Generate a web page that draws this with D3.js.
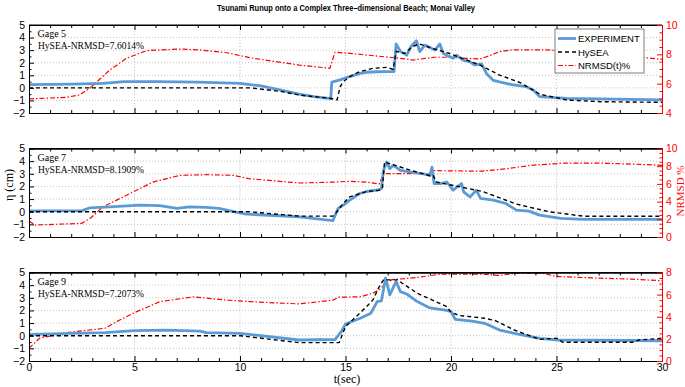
<!DOCTYPE html>
<html><head><meta charset="utf-8">
<script src="https://cdn.jsdelivr.net/npm/d3@7"></script>
<style>
body{margin:0;background:#fff;}
svg{display:block;}
</style></head>
<body>
<svg id="c" width="685" height="387"></svg>
<script>
// ---------- DATA ----------
const title = "Tsunami Runup onto a Complex Three–dimensional Beach; Monai Valley";
const gageNames = ["Gage 5", "Gage 7", "Gage 9"];
const nrmsdLabels = ["HySEA-NRMSD=7.6014%", "HySEA-NRMSD=8.1909%", "HySEA-NRMSD=7.2073%"];
const legendLabels = ["EXPERIMENT", "HySEA", "NRMSD(t)%"];
const xTicks = [0, 5, 10, 15, 20, 25, 30];
const leftTicks = [-2, -1, 0, 1, 2, 3, 4, 5];
const rightDomains = [[4, 10], [0, 10], [0, 8]];
const rightTicks = [[4, 6, 8, 10], [0, 2, 4, 6, 8, 10], [0, 2, 4, 6, 8]];

// Gage 5
const g5ExpT = [0,2,3.5,4.5,6,8,10,11,12,12.8,13.5,14.3,14.35,14.7,15.2,15.7,16,16.5,17.0,17.3,17.4,17.6,17.9,18.1,18.36,18.52,18.76,19.0,19.24,19.47,19.63,19.86,20.1,20.26,20.57,20.89,21.13,21.45,21.7,22.0,22.5,22.9,23.55,23.9,24.2,25.5,27,30];
const g5ExpV = [0.25,0.3,0.35,0.5,0.5,0.45,0.35,0.15,-0.2,-0.5,-0.7,-0.85,0.45,0.62,0.9,1.15,1.24,1.28,1.29,1.29,3.5,2.9,2.6,3.27,3.75,2.88,3.4,3.22,3.0,3.49,2.75,2.53,2.35,2.6,2.2,2.08,1.82,1.9,1.1,0.6,0.4,0.25,0.1,-0.17,-0.7,-0.83,-0.88,-0.95];
const g5SimT = [0,10.5,12,12.8,14.26,14.6,14.75,14.9,15.2,15.67,16.3,16.94,17.26,17.4,17.8,18.2,18.5,19.0,19.9,21.36,22.3,23.3,24.2,25.5,27.1,30];
const g5SimV = [0,0,-0.3,-0.57,-0.83,-0.95,0.1,0.49,0.89,1.29,1.55,1.63,1.47,2.9,2.75,3.3,3.5,3.2,2.75,1.82,1.02,0.4,-0.5,-0.97,-1.1,-1.15];
const g5ErrT = [0,1.78,2.4,2.88,3.4,3.83,4.62,5.57,7.15,8.1,9.37,10.46,12.8,14.26,14.5,15.2,16,17.6,18.2,19.2,19.9,21.36,21.7,22.3,22.9,24.6,27.1,28.7,30];
const g5ErrV = [4.96,5.07,5.23,5.68,6.37,6.93,7.73,8.25,8.36,8.3,8.11,7.77,7.27,7.05,8.14,8.07,7.95,7.73,7.61,7.8,7.8,7.68,7.84,8.18,8.3,8.3,8.07,7.84,7.66];

// Gage 7
const g7ExpT = [0,2.48,2.9,3.83,5.25,6.2,7,7.6,8.4,9.0,9.7,10.3,12.8,14.4,14.65,14.9,15.2,15.67,16,16.5,16.7,16.8,16.95,17.1,17.27,17.6,18.1,18.7,19.0,19.1,19.2,19.5,19.8,20.1,20.5,20.6,20.9,21.2,21.4,22.0,22.6,23.1,23.7,24.2,25.2,26.3,30];
const g7ExpV = [0.07,0.07,0.31,0.39,0.52,0.48,0.26,0.39,0.34,0.26,0,-0.19,-0.4,-0.71,0.26,0.52,0.91,1.44,1.6,1.7,1.83,3.27,3.93,3.41,3.67,3.27,3.14,3.0,2.88,3.53,2.23,2.23,2.35,1.7,2.23,1.57,1.17,1.7,1.05,0.91,0.65,0.13,0.05,-0.27,-0.53,-0.6,-0.6];
const g7SimT = [0,10.4,12.8,14.4,14.5,14.9,15.2,16.0,16.6,16.75,16.85,18.1,19.0,19.15,19.3,21.5,23.1,24.7,26.3,30];
const g7SimV = [0,0,-0.35,-0.35,-0.2,0.68,1.17,1.6,1.7,1.85,3.93,3.27,2.85,2.9,2.35,1.6,0.6,-0.02,-0.36,-0.36];
const g7ErrT = [0,0.3,2.5,2.9,3.5,4.62,5.87,7.15,8.4,9.67,10.4,12.8,14.4,15.2,16,16.6,16.8,17.6,19,19.2,20.75,21.5,22.6,23.8,25.4,27,28.6,30];
const g7ErrV = [1.8,1.35,1.54,2.1,3.4,4.72,6.2,6.97,7.04,6.97,6.6,6.1,6.2,6.3,6.2,6.0,7.15,7.15,7.15,7.5,7.45,7.45,7.7,8.1,8.35,8.35,8.24,8.1];

// Gage 9
const g9ExpT = [0,3.6,5,6.5,8.1,8.4,10,12.8,14.5,14.8,15.0,15.7,16.2,16.5,16.7,16.9,17.1,17.4,17.6,17.9,18.4,19.0,19.8,20.0,20.2,21.0,21.6,22.3,23.0,24.2,25.1,30];
const g9ExpV = [0.11,0.24,0.4,0.45,0.37,0.24,0.19,-0.34,-0.3,0.32,0.93,1.38,1.78,2.7,2.75,4.55,3.23,4.29,3.49,3.3,2.7,2.2,2.0,1.9,1.3,1.15,0.98,0.45,0.19,-0.21,-0.34,-0.4];
const g9SimT = [0,10,12.8,14.7,15.0,16.0,16.3,16.6,16.8,17.45,18.4,19.8,20.0,20.4,21.6,22.1,23.0,24.2,25.0,25.3,28.6,28.9,30];
const g9SimV = [0,0,-0.55,-0.55,0.71,2.3,2.83,3.89,4.42,4.42,3.36,2.3,1.85,1.6,1.38,1.2,0.45,-0.29,-0.2,-0.52,-0.52,-0.34,-0.2];
const g9ErrT = [0,0.5,1.8,3.6,4.3,5,6.2,7.8,9.4,10.5,12.8,14.4,14.7,15.7,16.3,16.6,16.9,17.2,18.4,19.5,21.5,22.3,23.1,24.3,25,27,28.6,30];
const g9ErrV = [1.15,2.06,2.57,2.96,3.7,4.37,5.36,5.8,5.5,5.36,5.16,5.5,5.77,5.8,6.13,6.43,7.0,7.35,7.55,7.85,7.85,7.73,7.95,7.95,7.64,7.49,7.4,7.25];

// ---------- LAYOUT ----------
const svg = d3.select("#c");
const L = 29, R = 662;
const panels = [
  {top: 25, bottom: 113, exp: [g5ExpT, g5ExpV], sim: [g5SimT, g5SimV], err: [g5ErrT, g5ErrV]},
  {top: 148.5, bottom: 237, exp: [g7ExpT, g7ExpV], sim: [g7SimT, g7SimV], err: [g7ErrT, g7ErrV]},
  {top: 272.5, bottom: 361, exp: [g9ExpT, g9ExpV], sim: [g9SimT, g9SimV], err: [g9ErrT, g9ErrV]}
];
const x = d3.scaleLinear().domain([0, 30]).range([L, R]);
const blue = "#5b9bd5", red = "#ff0000";
const tickFont = "'Liberation Sans', Arial, sans-serif";
const serif = "'Liberation Serif', 'Times New Roman', serif";
const fmt = d3.format("d");

svg.append("text").attr("x", 346).attr("y", 11).attr("text-anchor", "middle")
  .attr("font-family", tickFont).attr("font-weight", "bold").attr("font-size", 9.5)
  .attr("textLength", 258).attr("lengthAdjust", "spacingAndGlyphs").text(title);

panels.forEach((p, i) => {
  const y = d3.scaleLinear().domain([-2, 5]).range([p.bottom, p.top]);
  const y2 = d3.scaleLinear().domain(rightDomains[i]).range([p.bottom, p.top]);
  const g = svg.append("g");
  const clipId = "clip" + i;
  svg.append("clipPath").attr("id", clipId).append("rect")
    .attr("x", L).attr("y", p.top).attr("width", R - L).attr("height", p.bottom - p.top);

  // grid
  const grid = g.append("g").attr("stroke", "#b4b4b4").attr("stroke-width", 0.8).attr("stroke-dasharray", "1,2");
  grid.selectAll(".gh").data(d3.range(-1, 5)).join("line")
    .attr("x1", L).attr("x2", R).attr("y1", d => y(d)).attr("y2", d => y(d));
  grid.selectAll(".gv").data(xTicks.slice(1, -1)).join("line")
    .attr("x1", d => x(d)).attr("x2", d => x(d)).attr("y1", p.top).attr("y2", p.bottom);

  // lines
  const lines = g.append("g").attr("clip-path", `url(#${clipId})`);
  const mk = (T, V, sc) => d3.line().x((d, k) => x(T[k])).y((d, k) => sc(V[k]))(V);
  lines.append("path").attr("d", mk(p.err[0], p.err[1], y2)).attr("fill", "none")
    .attr("stroke", red).attr("stroke-width", 1.2).attr("stroke-dasharray", "5,2,1.5,2");
  lines.append("path").attr("d", mk(p.exp[0], p.exp[1], y)).attr("fill", "none")
    .attr("stroke", blue).attr("stroke-width", 2.8).attr("stroke-linejoin", "round");
  lines.append("path").attr("d", mk(p.sim[0], p.sim[1], y)).attr("fill", "none")
    .attr("stroke", "#000").attr("stroke-width", 1.4).attr("stroke-dasharray", "4,3");

  // frame top
  g.append("line").attr("x1", L).attr("x2", R).attr("y1", p.top).attr("y2", p.top).attr("stroke", "#000").attr("stroke-width", 1);

  // left axis
  const la = g.append("g").attr("transform", `translate(${L},0)`)
    .call(d3.axisLeft(y).tickValues(leftTicks).tickSizeInner(-5).tickSizeOuter(0).tickPadding(4).tickFormat(fmt));
  g.append("g").attr("transform", `translate(${L},0)`)
    .call(d3.axisLeft(y).tickValues(d3.range(-1.5, 5, 1)).tickSizeInner(-2.5).tickSizeOuter(0).tickFormat(""));
  la.selectAll("text").attr("font-family", tickFont).attr("font-size", 10.5).attr("fill", "#000");

  // x axes (bottom + top)
  const bx = g.append("g").attr("transform", `translate(0,${p.bottom})`)
    .call(d3.axisBottom(x).tickValues(xTicks).tickSizeInner(-5).tickSizeOuter(0).tickPadding(3)
      .tickFormat(i === 2 ? fmt : ""));
  g.append("g").attr("transform", `translate(0,${p.bottom})`)
    .call(d3.axisBottom(x).tickValues(d3.range(0, 31).filter(v => v % 5)).tickSizeInner(-3).tickSizeOuter(0).tickFormat(""));
  bx.selectAll("text").attr("font-family", tickFont).attr("font-size", 10.5).attr("fill", "#000");
  g.append("g").attr("transform", `translate(0,${p.top})`)
    .call(d3.axisTop(x).tickValues(xTicks).tickSizeInner(-5).tickSizeOuter(0).tickFormat(""));
  g.append("g").attr("transform", `translate(0,${p.top})`)
    .call(d3.axisTop(x).tickValues(d3.range(0, 31).filter(v => v % 5)).tickSizeInner(-3).tickSizeOuter(0).tickFormat(""));
  g.selectAll(".domain").attr("stroke", "#000");

  // right axis (red)
  const dom = rightDomains[i];
  const ra = g.append("g").attr("transform", `translate(${R},0)`)
    .call(d3.axisRight(y2).tickValues(rightTicks[i]).tickSizeInner(-5).tickSizeOuter(0).tickPadding(4).tickFormat(fmt));
  const rm = g.append("g").attr("transform", `translate(${R},0)`)
    .call(d3.axisRight(y2).tickValues(d3.range(dom[0], dom[1] + 0.01, 0.5).filter(v => v % 2)).tickSizeInner(-2.5).tickSizeOuter(0).tickFormat(""));
  ra.selectAll("text").attr("font-family", tickFont).attr("font-size", 10.5).attr("fill", red);
  ra.selectAll("line,path").attr("stroke", red);
  rm.selectAll("line,path").attr("stroke", red);

  // annotations
  g.append("text").attr("x", 37.5).attr("y", p.top + 12.3).attr("font-family", serif).attr("font-size", 10)
    .text(gageNames[i]);
  g.append("text").attr("x", 38).attr("y", p.top + 24.3).attr("font-family", serif).attr("font-size", 9.5)
    .text(nrmsdLabels[i]);
});

// axis labels
svg.append("text").attr("transform", "translate(13,185) rotate(-90)").attr("text-anchor", "middle")
  .attr("font-family", serif).attr("font-size", 12).text("η (cm)");
svg.append("text").attr("transform", "translate(683.5,191) rotate(-90)").attr("text-anchor", "middle")
  .attr("font-family", serif).attr("font-size", 11).attr("fill", red).text("NRMSD %");
svg.append("text").attr("x", 347).attr("y", 383).attr("text-anchor", "middle")
  .attr("font-family", serif).attr("font-size", 12).text("t(sec)");

// legend
const lg = svg.append("g");
lg.append("rect").attr("x", 555).attr("y", 29).attr("width", 89).attr("height", 44)
  .attr("fill", "#fff").attr("stroke", "#7f7f7f").attr("stroke-width", 1);
const lgY = [38.5, 52, 65.5];
const lgStyles = [
  {c: blue, w: 2.8, d: null},
  {c: "#000", w: 1.4, d: "4,3"},
  {c: red, w: 1.2, d: "5,2,1.5,2"}
];
legendLabels.forEach((t, k) => {
  lg.append("line").attr("x1", 558).attr("x2", 576).attr("y1", lgY[k]).attr("y2", lgY[k])
    .attr("stroke", lgStyles[k].c).attr("stroke-width", lgStyles[k].w).attr("stroke-dasharray", lgStyles[k].d);
  lg.append("text").attr("x", 578).attr("y", lgY[k] + 3.5).attr("font-family", tickFont)
    .attr("font-size", 9.5).text(t);
});
</script>
</body></html>
